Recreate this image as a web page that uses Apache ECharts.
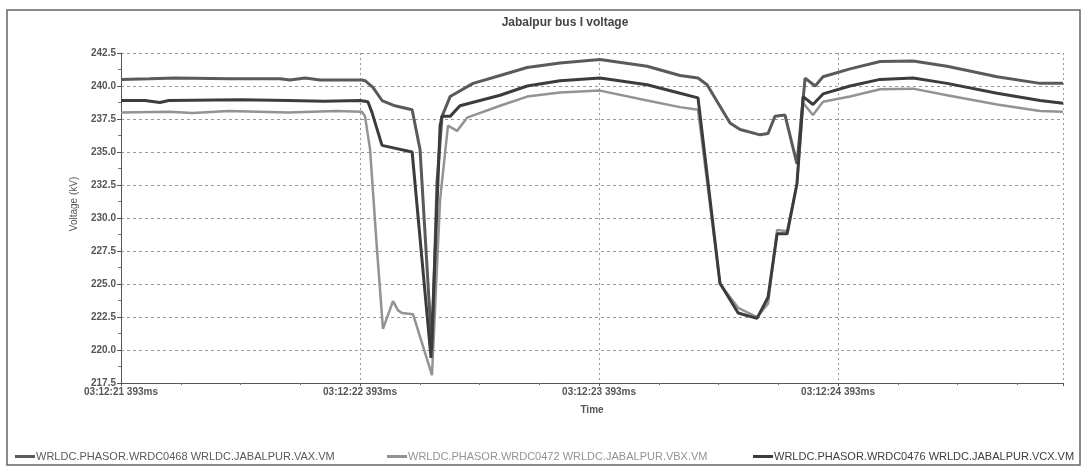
<!DOCTYPE html>
<html>
<head>
<meta charset="utf-8">
<script src="https://cdn.jsdelivr.net/npm/echarts@6/dist/echarts.min.js"></script>
<style>
html,body{margin:0;padding:0;background:#fff;}
#chart{width:1085px;height:468px;}
</style>
</head>
<body>
<div id="chart"></div>
<script>
// Time offsets in seconds from 03:12:21 393ms, and voltages in kV
const seriesNames = [
  'WRLDC.PHASOR.WRDC0468 WRLDC.JABALPUR.VAX.VM',
  'WRLDC.PHASOR.WRDC0472 WRLDC.JABALPUR.VBX.VM',
  'WRLDC.PHASOR.WRDC0476 WRLDC.JABALPUR.VCX.VM'
];
const tickLabels = ['03:12:21 393ms', '03:12:22 393ms', '03:12:23 393ms', '03:12:24 393ms'];

const vaxT = [0, 0.12, 0.226, 0.456, 0.665, 0.707, 0.77, 0.833, 1.008, 1.021, 1.054, 1.092, 1.146, 1.218, 1.251, 1.301, 1.322, 1.343, 1.377, 1.473, 1.586, 1.699, 1.837, 2.004, 2.201, 2.339, 2.414, 2.452, 2.548, 2.59, 2.674, 2.707, 2.736, 2.778, 2.828, 2.862, 2.904, 2.937, 3.05, 3.176, 3.314, 3.456, 3.665, 3.845, 3.941];
const vaxV = [240.5, 240.55, 240.6, 240.55, 240.55, 240.45, 240.6, 240.45, 240.45, 240.4, 239.9, 238.9, 238.5, 238.2, 235.2, 220.0, 232.7, 237.7, 239.2, 240.2, 240.8, 241.4, 241.75, 242.0, 241.5, 240.8, 240.6, 240.1, 237.2, 236.7, 236.3, 236.4, 237.7, 237.8, 234.1, 240.6, 240.0, 240.7, 241.3, 241.85, 241.9, 241.5, 240.7, 240.2, 240.2];

const vbxT = [0, 0.2, 0.3, 0.45, 0.7, 0.9, 1.008, 1.021, 1.042, 1.071, 1.096, 1.138, 1.159, 1.176, 1.222, 1.301, 1.335, 1.368, 1.406, 1.448, 1.586, 1.699, 1.837, 2.004, 2.201, 2.339, 2.414, 2.506, 2.582, 2.661, 2.707, 2.745, 2.787, 2.828, 2.854, 2.895, 2.937, 3.05, 3.176, 3.314, 3.456, 3.665, 3.845, 3.941];
const vbxV = [238.0, 238.05, 237.95, 238.1, 238.0, 238.1, 238.05, 237.7, 235.2, 227.6, 221.6, 223.7, 223.0, 222.8, 222.7, 218.1, 231.4, 237.0, 236.6, 237.6, 238.5, 239.2, 239.5, 239.65, 238.9, 238.4, 238.2, 225.0, 223.2, 222.5, 223.5, 229.1, 229.0, 232.6, 238.7, 237.8, 238.8, 239.2, 239.75, 239.8, 239.3, 238.6, 238.1, 238.05];

const vcxT = [0, 0.1, 0.163, 0.2, 0.5, 0.7, 0.85, 1.0, 1.033, 1.05, 1.092, 1.218, 1.297, 1.335, 1.343, 1.377, 1.418, 1.586, 1.699, 1.837, 2.004, 2.201, 2.339, 2.414, 2.506, 2.582, 2.661, 2.707, 2.745, 2.787, 2.828, 2.854, 2.895, 2.937, 3.05, 3.176, 3.314, 3.456, 3.665, 3.845, 3.941];
const vcxV = [238.9, 238.9, 238.75, 238.9, 238.95, 238.9, 238.85, 238.9, 238.8, 238.0, 235.5, 235.0, 219.4, 237.0, 237.7, 237.7, 238.5, 239.3, 240.0, 240.4, 240.6, 240.1, 239.45, 239.1, 225.05, 222.8, 222.4, 224.0, 228.8, 228.8, 232.6, 239.2, 238.6, 239.4, 240.0, 240.5, 240.6, 240.2, 239.45, 238.9, 238.7];

function pairs(t, v) { return t.map((x, i) => [x, v[i]]); }

const chart = echarts.init(document.getElementById('chart'));
const font = 'Arial, "Liberation Sans", sans-serif';
const colors = ['#5a5a5a', '#939393', '#3c3c3c'];
const legendLefts = [10, 382, 748];

chart.setOption({
  backgroundColor: '#fff',
  animation: false,
  title: {
    text: 'Jabalpur bus I voltage',
    left: 560, top: 12, textAlign: 'center',
    textStyle: { fontFamily: font, fontSize: 12, fontWeight: 'bold', color: '#444' }
  },
  legend: seriesNames.map((n, i) => ({
    left: legendLefts[i], top: 446,
    data: [{ name: n, textStyle: { color: colors[i] } }],
    icon: 'rect', itemWidth: 20, itemHeight: 3, itemGap: 0,
    textStyle: { fontFamily: font, fontSize: 11, padding: [0, 0, 0, -4] }
  })),
  graphic: [
    { type: 'rect', shape: { x: 7, y: 10, width: 1073, height: 455 }, style: { fill: 'none', stroke: '#666', lineWidth: 1.5 }, silent: true },
    { type: 'text', x: 74, y: 204, rotation: Math.PI / 2,
      style: { text: 'Voltage (kV)', font: '10px Arial, "Liberation Sans", sans-serif', fill: '#555', align: 'center', verticalAlign: 'middle' } }
  ],
  grid: { left: 121, right: 22, top: 53, bottom: 85 },
  xAxis: {
    type: 'value', min: 0, max: 3.941, interval: 1,
    name: 'Time', nameLocation: 'middle', nameGap: 22,
    nameTextStyle: { fontFamily: font, fontSize: 10, fontWeight: 'bold', color: '#555' },
    axisLine: { lineStyle: { color: '#555', width: 1 } },
    axisTick: { show: true, length: 3, lineStyle: { color: '#555' } },
    minorTick: { show: true, splitNumber: 4, length: 2, lineStyle: { color: '#777' } },
    axisLabel: {
      showMaxLabel: false, margin: 4,
      fontFamily: font, fontSize: 10, fontWeight: 'bold', color: '#555',
      formatter: v => (Math.abs(v - Math.round(v)) < 1e-6 && tickLabels[Math.round(v)]) ? tickLabels[Math.round(v)] : ''
    },
    splitLine: { show: true, lineStyle: { color: '#999', type: [2, 3], width: 1 } }
  },
  yAxis: {
    type: 'value', min: 217.5, max: 242.5, interval: 2.5,
    axisLine: { show: true, lineStyle: { color: '#555', width: 1 } },
    axisTick: { show: true, length: 4, lineStyle: { color: '#555' } },
    minorTick: { show: true, splitNumber: 2, length: 3, lineStyle: { color: '#777' } },
    axisLabel: {
      margin: 5, fontFamily: font, fontSize: 10, fontWeight: 'bold', color: '#555',
      formatter: v => v.toFixed(1)
    },
    splitLine: { show: true, lineStyle: { color: '#999', type: [3, 3], width: 1 } }
  },
  series: [
    { name: seriesNames[0], type: 'line', data: pairs(vaxT, vaxV), showSymbol: false, color: colors[0], lineStyle: { width: 3, color: colors[0] }, z: 3 },
    { name: seriesNames[1], type: 'line', data: pairs(vbxT, vbxV), showSymbol: false, color: colors[1], lineStyle: { width: 2.5, color: colors[1] }, z: 2 },
    { name: seriesNames[2], type: 'line', data: pairs(vcxT, vcxV), showSymbol: false, color: colors[2], lineStyle: { width: 3, color: colors[2] }, z: 4 }
  ]
});
</script>
</body>
</html>
